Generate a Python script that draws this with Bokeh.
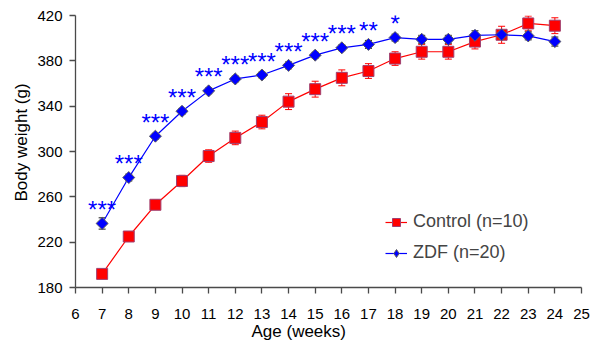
from bokeh.plotting import figure
from bokeh.models import (ColumnDataSource, Whisker, TeeHead, Legend, LegendItem,
                          FixedTicker, Title, Range1d)
from bokeh.embed import file_html
from bokeh.resources import INLINE
from bokeh.core.properties import value
import math

# ---- data ----
weeks = [7, 8, 9, 10, 11, 12, 13, 14, 15, 16, 17, 18, 19, 20, 21, 22, 23, 24]
control = [192, 225, 253, 274, 296, 312, 326, 344, 355, 365, 371, 382, 388, 388, 397, 403, 413, 411]
control_err = [3, 3, 4, 5, 5.5, 6, 6, 7, 7, 7, 6.5, 6, 6.5, 6.5, 6.5, 7.5, 6.5, 7]
zdf = [236.5, 277, 313.5, 335.5, 353.5, 364, 367.5, 376, 385, 391.5, 394.5, 400.5, 399, 399, 402.5, 403, 402, 397]
zdf_err = [5, 3, 2.5, 2.5, 2.5, 2.5, 2.5, 3, 2.5, 2.5, 3.5, 3, 3.5, 3.5, 4, 3, 3.5, 4]
sig_weeks = [7, 8, 9, 10, 11, 12, 13, 14, 15, 16, 17, 18]
sig_marks = ["***"] * 10 + ["**", "*"]
x_ticks = list(range(6, 26))
y_ticks = [180, 220, 260, 300, 340, 380, 420]

FONT = "Liberation Sans"

p = figure(width=590, height=347, output_backend="svg", toolbar_location=None,
           x_range=Range1d(6, 25), y_range=Range1d(180, 420),
           min_border_left=75, min_border_right=9, min_border_top=15, min_border_bottom=60)
p.outline_line_color = None
p.xgrid.visible = False
p.ygrid.visible = False
p.background_fill_color = "white"
p.border_fill_color = "white"

for ax in (p.xaxis[0], p.yaxis[0]):
    ax.axis_line_color = "#4a4a4a"
    ax.axis_line_width = 1.3
    ax.major_tick_line_color = "#4a4a4a"
    ax.major_tick_line_width = 1.3
    ax.major_tick_in = 0
    ax.major_tick_out = 6
    ax.minor_tick_line_color = None
    ax.major_label_text_font = FONT
    ax.major_label_text_font_size = "15px"
    ax.major_label_text_color = "black"

p.xaxis.ticker = FixedTicker(ticks=x_ticks)
p.yaxis.ticker = FixedTicker(ticks=y_ticks)
p.xaxis.major_label_standoff = 15
p.xaxis.major_label_text_line_height = 1.7
p.yaxis.major_label_standoff = 7

csrc = ColumnDataSource(dict(x=weeks, y=control,
                             lo=[v - e for v, e in zip(control, control_err)],
                             hi=[v + e for v, e in zip(control, control_err)]))
zsrc = ColumnDataSource(dict(x=weeks, y=zdf,
                             lo=[v - e for v, e in zip(zdf, zdf_err)],
                             hi=[v + e for v, e in zip(zdf, zdf_err)]))

wc = Whisker(source=csrc, base="x", lower="lo", upper="hi", dimension="height",
             line_color="#ff0000", line_width=1,
             upper_head=TeeHead(size=7, line_color="#ff0000", line_width=1),
             lower_head=TeeHead(size=7, line_color="#ff0000", line_width=1),
             level="underlay")
wz = Whisker(source=zsrc, base="x", lower="lo", upper="hi", dimension="height",
             line_color="#222222", line_width=1,
             upper_head=TeeHead(size=7, line_color="#222222", line_width=1),
             lower_head=TeeHead(size=7, line_color="#222222", line_width=1),
             level="underlay")
p.add_layout(wc)
p.add_layout(wz)

lc = p.line("x", "y", source=csrc, line_color="#ff0000", line_width=1.2)
mc = p.scatter("x", "y", source=csrc, marker="square", size=11,
               fill_color="#ff0000", line_color="#a04070", line_width=1)
lz = p.line("x", "y", source=zsrc, line_color="#0000ff", line_width=1.2)
# diamond glyph (used for the legend), covered by the rotated squares below
mz_leg = p.scatter("x", "y", source=zsrc, marker="diamond", size=10.5,
                   fill_color="#0000ff", line_color="#606060", line_width=1)
mz = p.scatter("x", "y", source=zsrc, marker="square", angle=math.pi / 4, size=8.5,
               fill_color="#0000ff", line_color="#606060", line_width=1)

ssrc = ColumnDataSource(dict(x=sig_weeks, y=zdf[:len(sig_weeks)], t=sig_marks))
p.text("x", "y", text="t", source=ssrc, text_color="#0000ff",
       text_font=value(FONT), text_font_size="24px",
       text_align="center", text_baseline="middle", y_offset=-14)

legend = Legend(items=[LegendItem(label="Control (n=10)", renderers=[lc, mc]),
                       LegendItem(label="ZDF (n=20)", renderers=[lz, mz_leg])],
                location=(310, 24), padding=0, margin=0, spacing=10,
                glyph_width=22, glyph_height=20, label_height=20,
                label_standoff=6, label_text_font=FONT, label_text_font_size="18px",
                border_line_color=None, background_fill_alpha=0)
p.add_layout(legend)

p.add_layout(Title(text="Age (weeks)", align="left", offset=176, standoff=0,
                   vertical_align="top",
                   text_font=FONT, text_font_size="17px", text_font_style="normal",
                   text_color="black"), "below")
p.add_layout(Title(text="Body weight (g)", align="left", offset=86, standoff=8,
                   text_font=FONT, text_font_size="17px", text_font_style="normal",
                   text_color="black"), "left")

open("out.html", "w").write(file_html(p, INLINE))
